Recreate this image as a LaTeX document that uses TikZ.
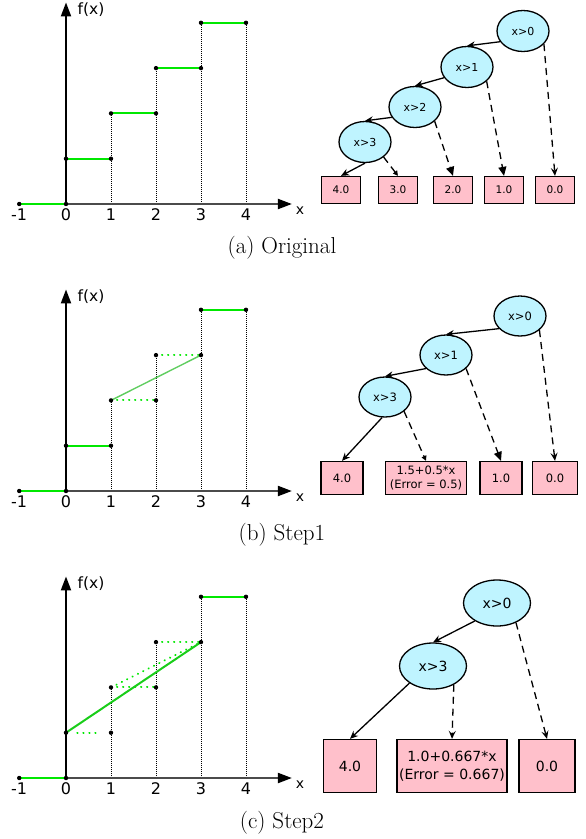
\documentclass[tikz,border=0pt]{standalone}
\usepackage{fontspec}
\newfontfamily\djv{DejaVu Sans}
\usetikzlibrary{arrows.meta,shapes.geometric}

\definecolor{splitfill}{RGB}{191,244,255}
\definecolor{leaffill}{RGB}{255,192,203}
\definecolor{stepgreen}{RGB}{0,232,0}
\definecolor{fitgreen}{RGB}{25,205,25}
\definecolor{softgreen}{RGB}{95,205,95}
\definecolor{axisgray}{RGB}{75,75,75}

\tikzset{
  xaxis/.style={axisgray, line width=2pt, -{Triangle[length=14pt,width=10pt,color=black]}},
  yaxis/.style={black, line width=2pt, -{Triangle[length=14pt,width=10pt]}},
  guide/.style={black, line width=0.9pt, dash pattern=on 1pt off 1pt},
  stepline/.style={stepgreen, line width=2pt},
  fitline/.style={fitgreen, line width=2pt},
  softline/.style={softgreen, line width=1.4pt},
  dotline/.style={stepgreen, line width=2pt, dash pattern=on 0.3pt off 5.7pt, line cap=round},
  ticklab/.style={font=\djv\fontsize{16}{18}\selectfont, yshift=-11pt},
  caption/.style={font=\fontsize{23}{26}\selectfont},
  split/.style={ellipse, draw=black, fill=splitfill, line width=1.3pt, inner sep=0pt},
  leaf/.style={rectangle, draw=black, fill=leaffill, line width=1.3pt, inner sep=0pt, align=center},
  yes/.style={black, line width=1.3pt, -{Stealth[length=8pt,width=7pt]}},
  no/.style={black, line width=1.3pt, dash pattern=on 7pt off 5pt},
  bigtip/.style={-{Triangle[length=9pt,width=8pt]}},
  smalltip/.style={-{Triangle[length=5pt,width=5pt]}},
  thintip/.style={-{Stealth[length=8pt,width=7pt,inset=3pt]}},
}

% axes, tick labels and dotted guides shared by the three plots
\newcommand\plotaxes{%
  \draw[guide] (1,0) -- (1,2) (2,0) -- (2,3) (3,0) -- (3,4) (4,0) -- (4,4);
  \draw[xaxis] (0,0) -- (5.02,0);
  \draw[yaxis] (0,0) -- (0,4.45);
  \draw[stepline] (-1.04,0) -- (0,0);
  \draw[stepline] (3,4) -- (4,4);
  \node[ticklab] at (-1.04,0) {-1};
  \foreach \k in {0,1,2,3,4} \node[ticklab] at (\k,0) {\k};
  \node[font=\djv\fontsize{14}{16}\selectfont] at (5.2,0) [yshift=-7pt] {x};
  \node[font=\djv\fontsize{15.5}{18}\selectfont, anchor=west] at (0.18,4.28) {f(x)};
}
\newcommand\plotdots{%
  \foreach \p in {(-1.04,0),(0,0),(0,1),(1,1),(1,2),(2,2),(2,3),(3,3),(3,4),(4,4)}
    \fill[black] \p circle (2.2pt);
}

\begin{document}
\begin{tikzpicture}[x=1pt,y=-1pt]
\useasboundingbox (0,0) rectangle (586,839);

% ---------- (a) original step function ----------
\begin{scope}[shift={(66,204)}, x=45pt, y=45.3pt]
  \plotaxes
  \draw[stepline] (0,1) -- (1,1);
  \draw[stepline] (1,2) -- (2,2);
  \draw[stepline] (2,3) -- (3,3);
  \plotdots
\end{scope}

\begin{scope}[split/.append style={minimum width=52pt, minimum height=41pt, font=\djv\fontsize{11}{13}\selectfont},
              leaf/.append style={minimum width=39pt, minimum height=27pt, font=\djv\fontsize{10.5}{12}\selectfont}]
  \node[split] (a0) at (523,31) {x>0};
  \node[split] (a1) at (467,67) {x>1};
  \node[split] (a2) at (415,107) {x>2};
  \node[split] (a3) at (365,142) {x>3};
  \node[leaf] (a40) at (341,190) {4.0};
  \node[leaf] (a30) at (398,190) {3.0};
  \node[leaf] (a20) at (453,190) {2.0};
  \node[leaf] (a10) at (504,190) {1.0};
  \node[leaf] (a00) at (555,190) {0.0};
  \draw[yes] (a0.205) -- (a1.north);
  \draw[yes] (a1.205) -- (a2.north);
  \draw[yes] (a2.204) -- (a3.north);
  \draw[yes] (a3.south) -- (a40.north);
  \draw[no, smalltip] (a3.-39) -- (a30.north);
  \draw[no, bigtip] (a2.-36) -- (a20.north);
  \draw[no, bigtip] (a1.-36) -- (a10.north);
  \draw[no, thintip] (a0.-32) -- (a00.north);
\end{scope}
\node[caption] (capa) at (282,248) {(a) Original};

% ---------- (b) first merge ----------
\begin{scope}[shift={(66,491)}, x=45pt, y=45.3pt]
  \plotaxes
  \draw[stepline] (0,1) -- (1,1);
  \draw[dotline] (1,2) -- (2,2);
  \draw[dotline] (2,3) -- (3,3);
  \draw[softline] (1,2) -- (3,3);
  \plotdots
\end{scope}

\begin{scope}[split/.append style={minimum width=52pt, minimum height=40pt, font=\djv\fontsize{11.5}{13}\selectfont},
              leaf/.append style={minimum height=33pt, font=\djv\fontsize{11.5}{13.5}\selectfont}]
  \node[split] (b0) at (520,316) {x>0};
  \node[split] (b1) at (446,355) {x>1};
  \node[split] (b3) at (385,397) {x>3};
  \node[leaf, minimum width=42pt] (b40) at (342,478) {4.0};
  \node[leaf, minimum width=81pt] (bf) at (426,478) {1.5+0.5*x\\(Error = 0.5)};
  \node[leaf, minimum width=42pt] (b10) at (501,478) {1.0};
  \node[leaf, minimum width=45pt] (b00) at (555,478) {0.0};
  \draw[yes] (b0.211) -- (b1.north);
  \draw[yes] (b1.214) -- (b3.north);
  \draw[yes] (b3.262) -- (b40.north);
  \draw[no, smalltip] (b3.-37) -- (bf.north);
  \draw[no, bigtip] (b1.-34) -- (b10.north);
  \draw[no, thintip] (b0.-36) -- (b00.north);
\end{scope}
\node[caption] (capb) at (282,535) {(b) Step1};

% ---------- (c) second merge ----------
\begin{scope}[shift={(66,778)}, x=45pt, y=45.3pt]
  \plotaxes
  \draw[dotline] (0.25,1) -- (0.78,1);
  \draw[dotline] (1,2) -- (2,2);
  \draw[dotline] (2,3) -- (3,3);
  \draw[dotline] (1,2) -- (3,3);
  \draw[fitline] (0,1) -- (3,3);
  \plotdots
\end{scope}

\begin{scope}[split/.append style={minimum width=67pt, minimum height=46pt, font=\djv\fontsize{14}{16}\selectfont},
              leaf/.append style={minimum height=53pt, font=\djv\fontsize{14}{18.5}\selectfont}]
  \node[split] (c0) at (497,603) {x>0};
  \node[split] (c3) at (433,666) {x>3};
  \node[leaf, minimum width=53pt] (c40) at (350,766) {4.0};
  \node[leaf, minimum width=110pt] (cf) at (452,766) {1.0+0.667*x\\(Error = 0.667)};
  \node[leaf, minimum width=56pt] (c00) at (547,766) {0.0};
  \draw[yes] (c0.219) -- (c3.north);
  \draw[yes] (c3.216) -- (c40.north);
  \draw[no, thintip] (c3.-42) -- (cf.north);
  \draw[no, thintip] (c0.-46) -- (c00.north);
\end{scope}
\node[caption] (capc) at (282,823) {(c) Step2};
\end{tikzpicture}
\end{document}
